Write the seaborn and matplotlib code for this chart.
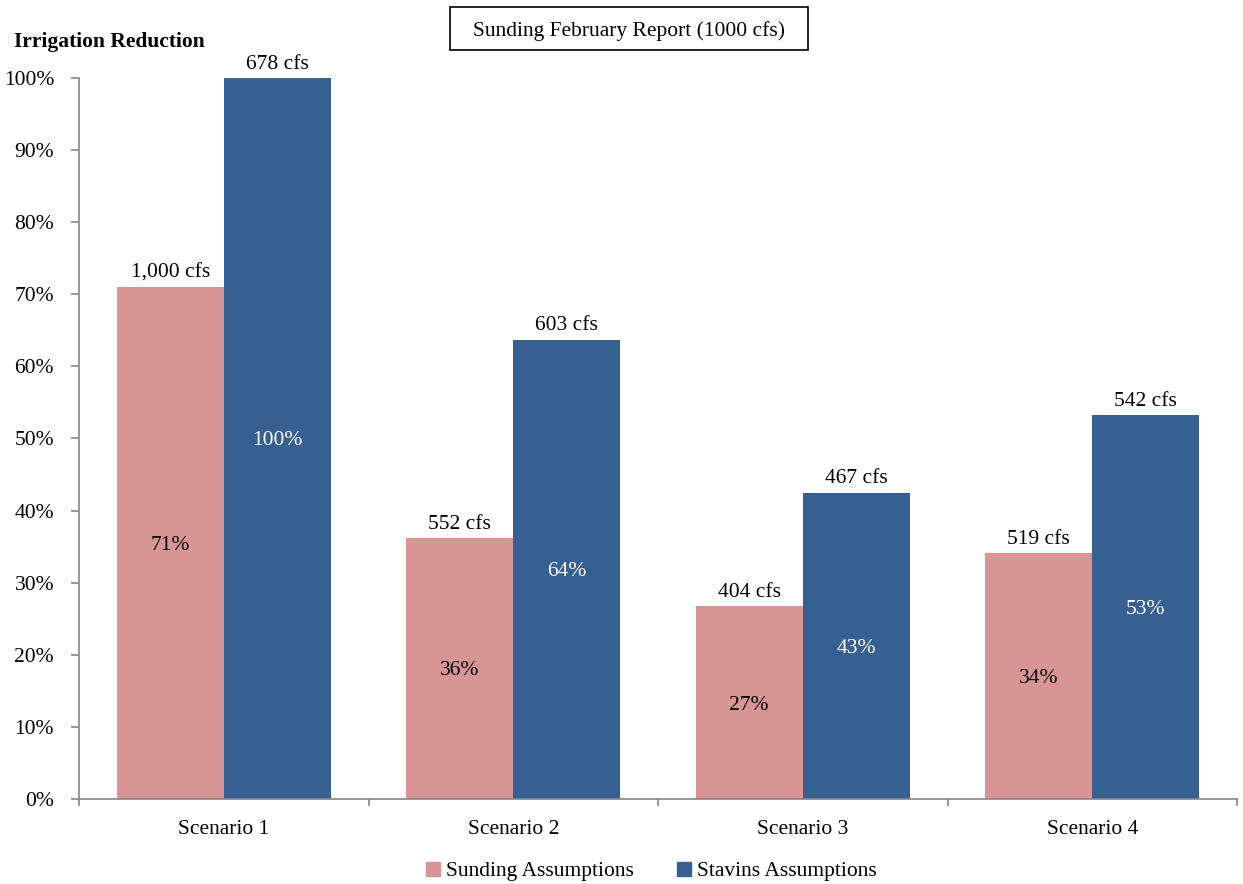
import numpy as np
import pandas as pd
import matplotlib
matplotlib.use("Agg")
import matplotlib.pyplot as plt
import seaborn as sns

# chart data
scenarios = ["Scenario 1", "Scenario 2", "Scenario 3", "Scenario 4"]
series_names = ["Sunding Assumptions", "Stavins Assumptions"]
sunding_pct = [71.0, 36.2, 26.7, 34.1]
stavins_pct = [100.0, 63.7, 42.5, 53.2]
sunding_cfs = ["1,000 cfs", "552 cfs", "404 cfs", "519 cfs"]
stavins_cfs = ["678 cfs", "603 cfs", "467 cfs", "542 cfs"]
sunding_lbl = ["71%", "36%", "27%", "34%"]
stavins_lbl = ["100%", "64%", "43%", "53%"]

colors = ["#D99594", "#376092"]
axis_gray = "#868686"
fs = 15.5

df = pd.DataFrame({
    "scenario": scenarios * 2,
    "series": [series_names[0]] * 4 + [series_names[1]] * 4,
    "value": sunding_pct + stavins_pct,
})

sns.set_style("white")
plt.rcParams['font.family'] = ['Liberation Serif', 'DejaVu Serif']
plt.rcParams['text.color'] = 'black'
plt.rcParams['xtick.color'] = 'black'
plt.rcParams['ytick.color'] = 'black'

fig = plt.figure(figsize=(12.43, 8.84), dpi=100)
ax = fig.add_axes([0.0636, 0.0962, 0.9316, 0.8156])

sns.barplot(data=df, x="scenario", y="value", hue="series", palette=colors,
            width=0.74, saturation=1, ax=ax, legend=False, linewidth=0)

# value labels
top_texts = [sunding_cfs, stavins_cfs]
inner_texts = [sunding_lbl, stavins_lbl]
inner_colors = ["black", "white"]
for i, cont in enumerate(ax.containers):
    for j, bar in enumerate(cont):
        cx = bar.get_x() + bar.get_width() / 2
        h = bar.get_height()
        ax.text(cx, h + 0.6, top_texts[i][j], ha="center", va="bottom", fontsize=fs)
        ax.text(cx, h / 2, inner_texts[i][j], ha="center", va="center_baseline",
                fontsize=fs, color=inner_colors[i])

ax.set_xlim(-0.5, 3.5)
ax.set_ylim(0, 100)
ax.set_yticks(np.arange(0, 101, 10))
ax.set_yticklabels([f"{v}%" for v in range(0, 101, 10)], fontsize=fs, va="center_baseline")
ax.set_xticks(range(4))
ax.set_xticklabels(scenarios, fontsize=fs)
ax.set_xticks(np.arange(-0.5, 4, 1), minor=True)
ax.tick_params(axis="x", which="major", bottom=True, length=0, pad=15)
ax.tick_params(axis="x", which="minor", bottom=True, length=5, direction="out",
               color=axis_gray, width=1.2)
ax.tick_params(axis="y", left=True, length=6, direction="out", color=axis_gray,
               width=1.2, pad=12)
ax.set_xlabel("")
ax.set_ylabel("")

for s in ["top", "right"]:
    ax.spines[s].set_visible(False)
for s in ["left", "bottom"]:
    ax.spines[s].set_color(axis_gray)
    ax.spines[s].set_linewidth(1.2)

fig.text(0.011, 0.953, "Irrigation Reduction", fontsize=fs, fontweight="bold",
         ha="left", va="center")

# title box
fig.patches.append(plt.Rectangle((0.362, 0.9434), 0.288, 0.0486, transform=fig.transFigure,
                                 facecolor="white", edgecolor="black", linewidth=1.2))
fig.text(0.506, 0.965, "Sunding February Report (1000 cfs)", fontsize=fs,
         ha="center", va="center")

handles = [plt.Rectangle((0, 0), 1, 1, color=c) for c in colors]
fig.legend(handles, series_names, loc="center", bbox_to_anchor=(0.524, 0.014),
           ncol=2, frameon=False, fontsize=fs, handlelength=0.65, handleheight=0.65,
           handletextpad=0.3, columnspacing=2.0)

fig.savefig("out.png", dpi=100)
